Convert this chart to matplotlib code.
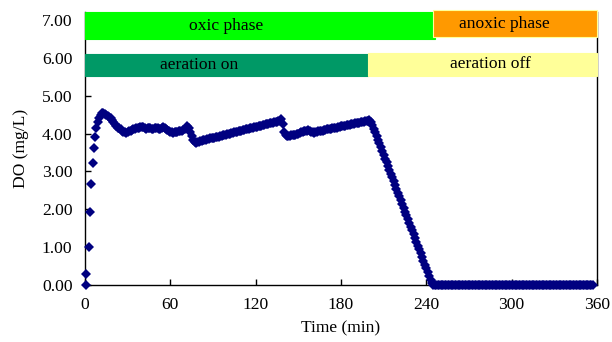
import numpy as np
import matplotlib
matplotlib.use('Agg')
from matplotlib import pyplot as plt
from matplotlib.patches import Rectangle

# start-up points, irregular spacing (min, mg/L)
start_time = [0.5, 1.0, 2.8, 3.7, 4.5, 5.8, 6.6, 7.3]
start_do = [0.00, 0.28, 1.01, 1.92, 2.68, 3.23, 3.62, 3.90]

# one reading per minute from t = 8 min on
first_minute = 8
do_aerated = [
    4.15, 4.30, 4.42, 4.50, 4.55, 4.54, 4.52, 4.50, 4.47, 4.44,
    4.40, 4.36, 4.30, 4.25, 4.20, 4.16, 4.14, 4.12, 4.08, 4.05,
    4.03, 4.02, 4.04, 4.06, 4.08, 4.10, 4.11, 4.12, 4.14, 4.15,
    4.16, 4.17, 4.18, 4.17, 4.15, 4.13, 4.14, 4.16, 4.15, 4.13,
    4.12, 4.14, 4.16, 4.14, 4.12, 4.13, 4.15, 4.18, 4.15, 4.12,
    4.10, 4.08, 4.05, 4.03, 4.02, 4.03, 4.04, 4.05, 4.06, 4.07,
    4.08, 4.10, 4.12, 4.15, 4.19, 4.14, 4.05, 3.93, 3.82, 3.77,
    3.76, 3.77,
    3.79, 3.80, 3.81, 3.82, 3.83, 3.84, 3.85, 3.86, 3.87, 3.87,
    3.88, 3.89, 3.90, 3.91, 3.92, 3.93, 3.94, 3.95, 3.96, 3.97,
    3.98, 3.99, 4.00, 4.01, 4.02, 4.03, 4.04, 4.05, 4.06, 4.07,
    4.08, 4.09, 4.10, 4.11, 4.12, 4.13, 4.14, 4.15, 4.16, 4.17,
    4.18, 4.18, 4.19, 4.20, 4.21, 4.22, 4.23, 4.24, 4.25, 4.26,
    4.27, 4.28, 4.29, 4.30, 4.30, 4.31, 4.32, 4.33,
    4.38, 4.25, 4.05, 3.97, 3.94, 3.93, 3.94, 3.95, 3.95, 3.96,
    3.97, 3.98, 3.99, 4.01, 4.03, 4.05, 4.06, 4.07, 4.08, 4.09,
    4.07, 4.05, 4.03, 4.02, 4.03, 4.05,
    4.06, 4.07, 4.08, 4.08, 4.09, 4.10, 4.11, 4.12, 4.12, 4.13,
    4.14, 4.15, 4.16, 4.16, 4.17, 4.18, 4.19, 4.19, 4.20, 4.21,
    4.22, 4.23, 4.23, 4.24, 4.25, 4.26, 4.27, 4.27, 4.28, 4.29,
    4.30, 4.31, 4.31, 4.32, 4.33, 4.34, 4.36,
]
do_decline = [
    4.30, 4.22, 4.13, 4.04, 3.94, 3.84, 3.74, 3.64, 3.54, 3.44,
    3.34, 3.24, 3.14, 3.04, 2.94, 2.84, 2.74, 2.64, 2.54, 2.44,
    2.34, 2.24, 2.14, 2.04, 1.94, 1.84, 1.74, 1.64, 1.54, 1.44,
    1.34, 1.24, 1.14, 1.04, 0.94, 0.84, 0.74, 0.64, 0.54, 0.44,
    0.34, 0.24, 0.14, 0.05,
]
do_anoxic = [0.00] * 113

# phase bars: (label, start, end, y bottom, y top, colour, label x)
phase_bars = [
    ('oxic phase', 0, 246, 6.49, 7.20, '#00FF00', 99),
    ('anoxic phase', 245, 360, 6.54, 7.26, '#FF9900', 295),
    ('aeration on', 0, 199.3, 5.52, 6.10, '#009966', 80),
    ('aeration off', 199.3, 360, 5.52, 6.14, '#FFFF99', 285),
]

x_ticks = [0, 60, 120, 180, 240, 300, 360]
y_ticks = [0, 1, 2, 3, 4, 5, 6, 7]

do_values = do_aerated + do_decline + do_anoxic
minutes = np.arange(first_minute, first_minute + len(do_values))
time = np.concatenate([start_time, minutes])
do = np.concatenate([start_do, do_values])

plt.rcParams['font.family'] = ['Liberation Serif', 'DejaVu Serif']

fig = plt.figure(figsize=(6.12, 3.42), dpi=100)
ax = fig.add_axes([0.1389, 0.1667, 0.8366, 0.797])

ax.plot(time, do, linestyle='none', marker='D', markersize=5.3,
        color='#000080', markeredgewidth=0, clip_on=False, zorder=3)

for label, x0, x1, y0, y1, colour, tx in phase_bars:
    edge = '#FFFF99' if label == 'anoxic phase' else colour
    ax.add_patch(Rectangle((x0, y0), x1 - x0, y1 - y0, facecolor=colour,
                           edgecolor=edge, linewidth=0.8, clip_on=False, zorder=4))
    ax.text(tx, (y0 + y1) / 2, label, ha='center', va='center',
            fontsize=12.6, zorder=5)

ax.set_xlim(0, 360)
ax.set_ylim(0, 7.2)
ax.set_xticks(x_ticks)
ax.set_yticks(y_ticks)
ax.set_yticklabels([f'{v:.2f}' for v in y_ticks])
ax.tick_params(axis='both', direction='in', labelsize=12.6, width=1, length=4)
ax.tick_params(axis='y', pad=9)
ax.tick_params(axis='x', pad=9)
ax.spines['top'].set_visible(False)
for side in ['left', 'bottom', 'right']:
    ax.spines[side].set_linewidth(1)

ax.set_xlabel('Time (min)', fontsize=12.6, labelpad=5)
ax.set_ylabel('DO (mg/L)', fontsize=12.6, labelpad=9)

fig.savefig('out.png', dpi=100)
